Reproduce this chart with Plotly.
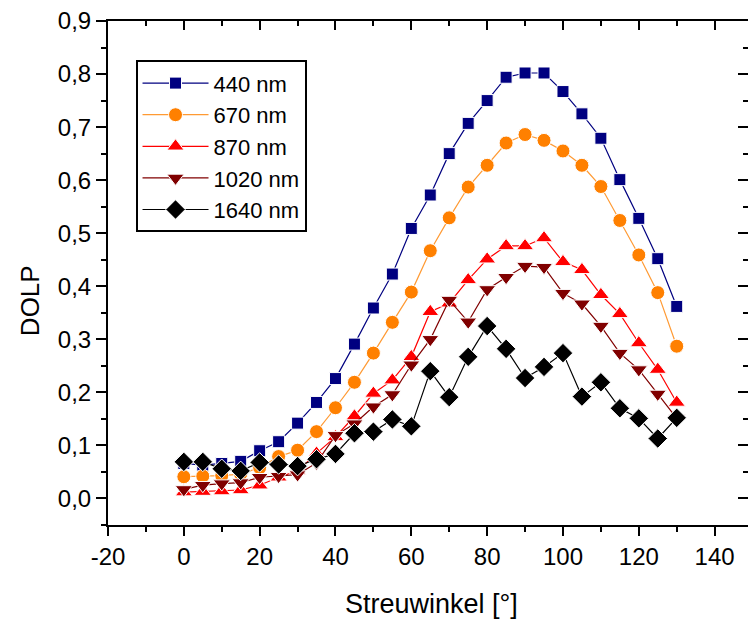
import plotly.graph_objects as go

# Scattering angle in degrees
angles = [0, 5, 10, 15, 20, 25, 30, 35, 40, 45, 50, 55, 60, 65,
          70, 75, 80, 85, 90, 95, 100, 105, 110, 115, 120, 125, 130]

# Degree of linear polarisation per wavelength
dolp_440 = [0.066, 0.063, 0.066, 0.070, 0.090, 0.107, 0.142, 0.181, 0.226, 0.291,
            0.359, 0.423, 0.509, 0.572, 0.650, 0.707, 0.750, 0.794, 0.802, 0.802,
            0.767, 0.725, 0.679, 0.601, 0.528, 0.452, 0.362]
dolp_670 = [0.041, 0.042, 0.043, 0.046, 0.058, 0.079, 0.091, 0.126, 0.171, 0.219,
            0.274, 0.332, 0.389, 0.467, 0.529, 0.587, 0.628, 0.670, 0.686, 0.675,
            0.655, 0.628, 0.588, 0.524, 0.459, 0.388, 0.287]
dolp_870 = [0.012, 0.013, 0.014, 0.016, 0.025, 0.040, 0.052, 0.085, 0.116, 0.155,
            0.198, 0.223, 0.267, 0.352, 0.368, 0.412, 0.451, 0.476, 0.476, 0.491,
            0.446, 0.431, 0.384, 0.348, 0.293, 0.243, 0.181]
dolp_1020 = [0.017, 0.025, 0.028, 0.030, 0.040, 0.042, 0.045, 0.067, 0.119, 0.141,
             0.173, 0.196, 0.252, 0.300, 0.374, 0.333, 0.394, 0.417, 0.438, 0.436,
             0.387, 0.367, 0.325, 0.274, 0.243, 0.197, 0.151]
dolp_1640 = [0.069, 0.069, 0.056, 0.052, 0.068, 0.064, 0.061, 0.074, 0.084, 0.123,
             0.126, 0.149, 0.136, 0.240, 0.191, 0.267, 0.325, 0.282, 0.227, 0.248,
             0.274, 0.192, 0.219, 0.170, 0.151, 0.113, 0.152]

series_names = ["440 nm", "670 nm", "870 nm", "1020 nm", "1640 nm"]
series_values = [dolp_440, dolp_670, dolp_870, dolp_1020, dolp_1640]
marker_colors = ["#000080", "#FF8000", "#FF0000", "#800000", "#000000"]
line_colors = ["#000080", "#FF9A33", "#FF0000", "#800000", "#000000"]
symbols = ["square", "circle", "triangle-up", "triangle-down", "diamond"]
sizes = [12, 14, 15, 15, 15]

x_ticks = [-20, 0, 20, 40, 60, 80, 100, 120, 140]
x_tick_labels = ["-20", "0", "20", "40", "60", "80", "100", "120", "140"]
y_ticks = [0.0, 0.1, 0.2, 0.3, 0.4, 0.5, 0.6, 0.7, 0.8, 0.9]
y_tick_labels = ["0,0", "0,1", "0,2", "0,3", "0,4", "0,5", "0,6", "0,7", "0,8", "0,9"]

FONT = "Liberation Sans, Arial, sans-serif"
X_RANGE = [-20, 148.8]
Y_RANGE = [-0.05, 0.9]

fig = go.Figure()
for name, vals, mc, lc, sym, sz in zip(series_names, series_values, marker_colors,
                                        line_colors, symbols, sizes):
    fig.add_trace(go.Scatter(
        x=angles, y=vals, name=name, mode="lines+markers",
        line=dict(color=lc, width=1.2),
        marker=dict(symbol=sym, size=sz, color=mc,
                    line=dict(color="white", width=1)),
    ))

# empty trace that anchors the mirrored top/right axes
fig.add_trace(go.Scatter(x=[], y=[], xaxis="x2", yaxis="y2",
                         showlegend=False, hoverinfo="skip"))

fig.update_layout(
    width=748, height=623,
    margin=dict(l=108, r=0, t=21, b=98),
    paper_bgcolor="white", plot_bgcolor="white",
    font=dict(family=FONT, size=24, color="black"),
    showlegend=True,
    legend=dict(
        x=0.043, y=0.922, xanchor="left", yanchor="top",
        bgcolor="white", bordercolor="black", borderwidth=2,
        font=dict(family=FONT, size=22, color="black"),
        itemwidth=66, tracegroupgap=0,
    ),
    xaxis=dict(
        range=X_RANGE, tickmode="array", tickvals=x_ticks, ticktext=x_tick_labels,
        ticks="outside", ticklen=9, tickwidth=2, tickcolor="black",
        showline=True, linewidth=2, linecolor="black",
        showgrid=False, zeroline=False,
        minor=dict(dtick=10, tick0=0, ticks="outside", ticklen=5, tickwidth=2,
                   tickcolor="black", showgrid=False),
        tickfont=dict(family=FONT, size=24),
    ),
    yaxis=dict(
        range=Y_RANGE, tickmode="array", tickvals=y_ticks, ticktext=y_tick_labels,
        ticks="outside", ticklen=10, tickwidth=2, tickcolor="black",
        showline=True, linewidth=2, linecolor="black",
        showgrid=False, zeroline=False,
        minor=dict(dtick=0.05, tick0=0, ticks="outside", ticklen=5, tickwidth=2,
                   tickcolor="black", showgrid=False),
        tickfont=dict(family=FONT, size=24),
    ),
    xaxis2=dict(
        range=X_RANGE, overlaying="x", side="top", anchor="y2",
        tickmode="array", tickvals=x_ticks, showticklabels=False,
        ticks="inside", ticklen=9, tickwidth=2, tickcolor="black",
        showline=True, linewidth=2, linecolor="black",
        showgrid=False, zeroline=False,
        minor=dict(dtick=10, tick0=0, ticks="inside", ticklen=5, tickwidth=2,
                   tickcolor="black", showgrid=False),
    ),
    yaxis2=dict(
        range=Y_RANGE, overlaying="y", side="right", anchor="x2",
        tickmode="array", tickvals=y_ticks, showticklabels=False,
        ticks="inside", ticklen=10, tickwidth=2, tickcolor="black",
        showline=True, linewidth=2, linecolor="black",
        showgrid=False, zeroline=False,
        minor=dict(dtick=0.05, tick0=0, ticks="inside", ticklen=5, tickwidth=2,
                   tickcolor="black", showgrid=False),
    ),
    annotations=[
        dict(text="DOLP", xref="paper", yref="paper", x=-0.122, y=0.446,
             xanchor="center", yanchor="middle", textangle=-90, showarrow=False,
             font=dict(family=FONT, size=26)),
        dict(text="Streuwinkel [°]", xref="paper", yref="paper", x=0.506, y=-0.157,
             xanchor="center", yanchor="middle", showarrow=False,
             font=dict(family=FONT, size=27)),
    ],
)

fig.write_html("out.html")
